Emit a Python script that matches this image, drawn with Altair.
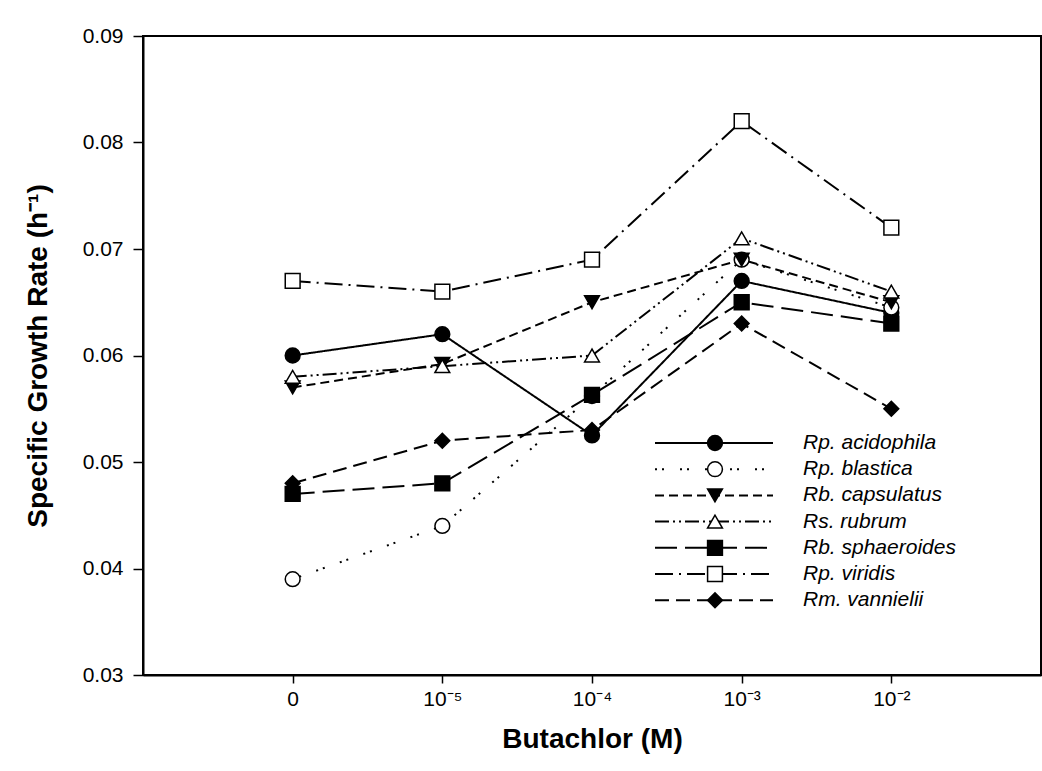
import altair as alt
import pandas as pd

# ---- data ----
concentrations = ["0", "10⁻⁵", "10⁻⁴", "10⁻³", "10⁻²"]
species = ["Rp. acidophila", "Rp. blastica", "Rb. capsulatus", "Rs. rubrum",
           "Rb. sphaeroides", "Rp. viridis", "Rm. vannielii"]
acidophila = [0.060, 0.062, 0.0525, 0.067, 0.064]
blastica = [0.039, 0.044, 0.0562, 0.069, 0.0645]
capsulatus = [0.057, 0.0592, 0.065, 0.069, 0.065]
rubrum = [0.058, 0.059, 0.060, 0.071, 0.066]
sphaeroides = [0.047, 0.048, 0.0563, 0.065, 0.063]
viridis = [0.067, 0.066, 0.069, 0.082, 0.072]
vannielii = [0.048, 0.052, 0.053, 0.063, 0.055]
series = [acidophila, blastica, capsulatus, rubrum, sphaeroides, viridis, vannielii]

# ---- styles ----
shapes = ["circle", "circle", "triangle-down", "triangle-up", "square", "square", "diamond"]
fills = ["black", "white", "black", "white", "black", "white", "black"]
dashes = [[1, 0], [2, 5, 2, 16], [9, 5], [14, 4, 2, 4, 2, 4], [22, 8], [18, 6, 2, 6], [14, 7]]

rows = []
for name, vals in zip(species, series):
    for i, v in enumerate(vals):
        rows.append({"species": name, "x": i, "y": v})
df = pd.DataFrame(rows)

# legend layout (in data units of the plot)
W, H = 898, 639
X0, X1 = -1, 5
Y0, Y1 = 0.03, 0.09
def px_to_x(px):
    return X0 + (px - 143) / W * (X1 - X0)
def px_to_y(py):
    return Y1 - (py - 36) / H * (Y1 - Y0)

leg = pd.DataFrame({
    "species": species,
    "lx0": [px_to_x(655)] * 7,
    "lx1": [px_to_x(773)] * 7,
    "mx": [px_to_x(715)] * 7,
    "tx": [px_to_x(803)] * 7,
    "ly": [px_to_y(443 + i * 26.2) for i in range(7)],
})

xs = alt.Scale(domain=[X0, X1], nice=False, zero=False)
ys = alt.Scale(domain=[Y0, Y1], nice=False, zero=False)
dash_scale = alt.Scale(domain=species, range=dashes)
shape_scale = alt.Scale(domain=species, range=shapes)
fill_scale = alt.Scale(domain=species, range=fills)

label_expr = "[" + ",".join("'" + c + "'" for c in concentrations) + "][datum.value]"

FONT = "Liberation Sans"
base = alt.Chart(df)
lines = base.mark_line(color="black", strokeWidth=2).encode(
    x=alt.X("x:Q", scale=xs, axis=alt.Axis(
        values=[0, 1, 2, 3, 4], labelExpr=label_expr, title="Butachlor (M)",
        grid=False, tickSize=8, tickColor="black", domainColor="black",
        domainWidth=2, tickWidth=1.5, labelPadding=5, titlePadding=16,
        labelFontSize=21, titleFontSize=28, titleFontWeight="bold",
        labelFont=FONT, titleFont=FONT, labelColor="black", titleColor="black")),
    y=alt.Y("y:Q", scale=ys, axis=alt.Axis(
        values=[0.03, 0.04, 0.05, 0.06, 0.07, 0.08, 0.09], format=".2f",
        title="Specific Growth Rate (h⁻¹)", grid=False, tickSize=10,
        tickColor="black", domainColor="black", domainWidth=2, tickWidth=1.5,
        labelPadding=10, titlePadding=30, labelFontSize=21, titleFontSize=28,
        titleFontWeight="bold", labelFont=FONT, titleFont=FONT,
        labelColor="black", titleColor="black")),
    detail="species:N",
    strokeDash=alt.StrokeDash("species:N", scale=dash_scale, legend=None),
)
points = base.mark_point(filled=True, stroke="black", strokeWidth=1.5, size=220, opacity=1).encode(
    x=alt.X("x:Q", scale=xs),
    y=alt.Y("y:Q", scale=ys),
    shape=alt.Shape("species:N", scale=shape_scale, legend=None),
    fill=alt.Fill("species:N", scale=fill_scale, legend=None),
)

lbase = alt.Chart(leg)
leg_lines = lbase.mark_rule(color="black", strokeWidth=2).encode(
    x=alt.X("lx0:Q", scale=xs), x2="lx1:Q", y=alt.Y("ly:Q", scale=ys),
    strokeDash=alt.StrokeDash("species:N", scale=dash_scale, legend=None),
)
leg_points = lbase.mark_point(filled=True, stroke="black", strokeWidth=1.5, size=220, opacity=1).encode(
    x=alt.X("mx:Q", scale=xs), y=alt.Y("ly:Q", scale=ys),
    shape=alt.Shape("species:N", scale=shape_scale, legend=None),
    fill=alt.Fill("species:N", scale=fill_scale, legend=None),
)
leg_text = lbase.mark_text(align="left", baseline="middle", fontSize=21,
                           fontStyle="italic", font=FONT, color="black").encode(
    x=alt.X("tx:Q", scale=xs), y=alt.Y("ly:Q", scale=ys), text="species:N",
)

chart = alt.layer(lines, points, leg_lines, leg_points, leg_text).properties(
    width=W, height=H,
    autosize=alt.AutoSizeParams(type="none"),
    padding={"left": 143, "top": 36, "right": 1, "bottom": 96},
    background="white",
).configure_view(stroke="black", strokeWidth=2)

chart.save("out.html", embed_options={"renderer": "svg", "actions": False})
